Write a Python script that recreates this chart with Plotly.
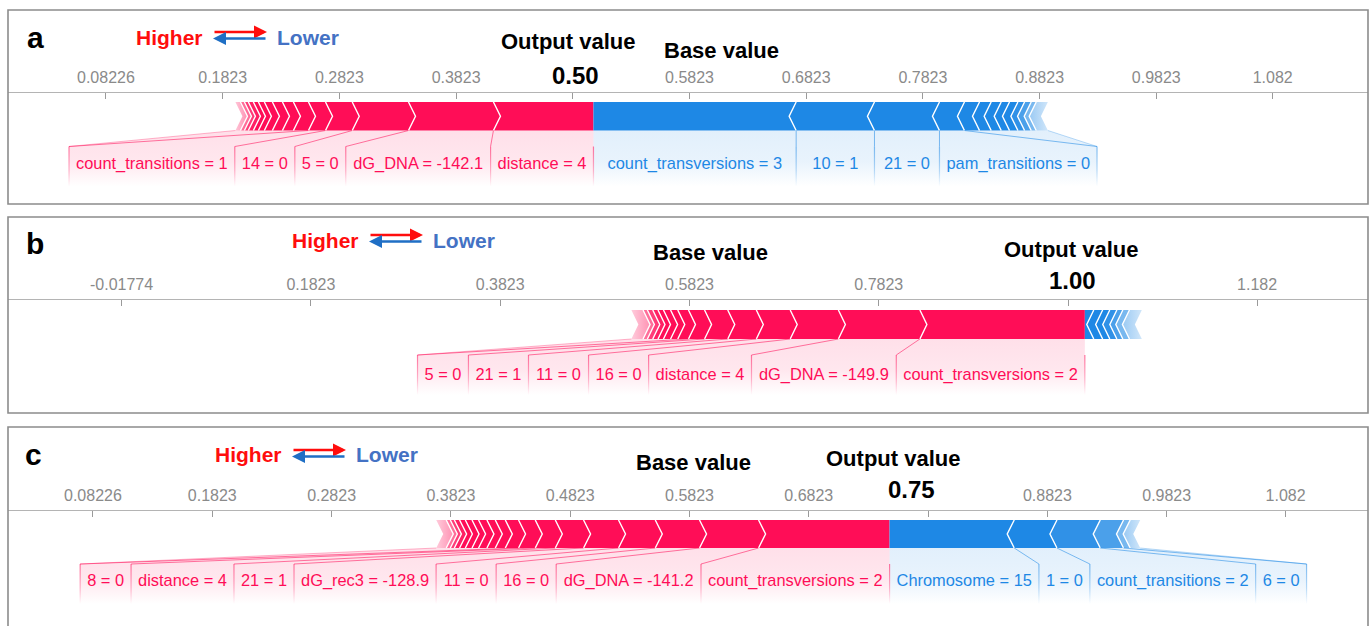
import plotly.graph_objects as go

W, H = 1372, 626
BASE_VALUE = 0.5823

# ---------------- panel a ----------------
A_OUTPUT = 0.50
A_POS_LABELS = ["distance = 4", "dG_DNA = -142.1", "5 = 0", "14 = 0", "count_transitions = 1"]
A_POS_EFFECTS = [0.0857, 0.0728, 0.0482, 0.0229, 0.0146]
A_POS_TAIL = [0.0129, 0.0094, 0.0086, 0.0069, 0.0051, 0.0043, 0.0043, 0.0034, 0.0034, 0.0043]
A_NEG_LABELS = ["count_transversions = 3", "10 = 1", "21 = 0", "pam_transitions = 0"]
A_NEG_EFFECTS = [0.1737, 0.0671, 0.0557, 0.0214]
A_NEG_TAIL = [0.0129, 0.0100, 0.0086, 0.0071, 0.0072, 0.0057, 0.0057, 0.0043, 0.0100]
A_TICKS = ["0.08226", "0.1823", "0.2823", "0.3823", "0.4823", "0.5823",
           "0.6823", "0.7823", "0.8823", "0.9823", "1.082"]

# ---------------- panel b ----------------
B_OUTPUT = 1.00
B_POS_LABELS = ["count_transversions = 2", "dG_DNA = -149.9", "distance = 4",
                "16 = 0", "11 = 0", "21 = 1", "5 = 0"]
B_POS_EFFECTS = [0.1743, 0.0861, 0.0509, 0.0358, 0.0302, 0.0245, 0.0170]
B_POS_TAIL = [0.0113, 0.0076, 0.0075, 0.0058, 0.0055, 0.0057, 0.0046, 0.0123]
B_NEG_LABELS = []
B_NEG_EFFECTS = []
B_NEG_TAIL = [0.0094, 0.0094, 0.0075, 0.0075, 0.0063, 0.0070, 0.0131]
B_TICKS = ["-0.01774", "0.1823", "0.3823", "0.5823", "0.7823", "0.9823", "1.182"]

# ---------------- panel c ----------------
C_OUTPUT = 0.75
C_POS_LABELS = ["count_transversions = 2", "dG_DNA = -141.2", "16 = 0", "11 = 0",
                "dG_rec3 = -128.9", "21 = 1", "distance = 4", "8 = 0"]
C_POS_EFFECTS = [0.1098, 0.0495, 0.0371, 0.0308, 0.0293, 0.0237, 0.0168, 0.0140]
C_POS_TAIL = [0.0111, 0.0084, 0.0070, 0.0070, 0.0055, 0.0056, 0.0048, 0.0044, 0.0034, 0.0034, 0.0084]
C_NEG_LABELS = ["Chromosome = 15", "1 = 0", "count_transitions = 2", "6 = 0"]
C_NEG_EFFECTS = [0.1045, 0.0358, 0.0363, 0.0195]
C_NEG_TAIL = [0.0056, 0.0084]
C_TICKS = ["0.08226", "0.1823", "0.2823", "0.3823", "0.4823", "0.5823",
           "0.6823", "0.7823", "0.8823", "0.9823", "1.082"]

# ---------------- styling ----------------
RED = (255, 13, 87)
BLUE = (30, 136, 229)
LBL_FONT = "Liberation Sans, Arial, sans-serif"
BOLD_FONT = "Liberation Sans, Arial, sans-serif"
LBL_SIZE = 16.4
TICK_SIZE = 16
BASE_PX = 689.5          # pixel column of the base value in every panel
BOX_X0, BOX_X1 = 8, 1368  # panel frame left / right
TIP = 7                  # chevron depth (px)
PAD = 14                 # horizontal padding inside a label cell (px)

CHAR_EM = {c: 0.556 for c in "0123456789abdeghnopqu_"}
CHAR_EM.update({"c": 0.5, "s": 0.5, "v": 0.5, "k": 0.5, "x": 0.5, "y": 0.5, "z": 0.5,
                "t": 0.278, "f": 0.278, "i": 0.222, "l": 0.222, "j": 0.222, "r": 0.333,
                "m": 0.833, "w": 0.722, " ": 0.278, "=": 0.584, "-": 0.333, ".": 0.278,
                "C": 0.722, "D": 0.722, "N": 0.722, "A": 0.667, "G": 0.778})


def rgba(c, a):
    return f"rgba({c[0]},{c[1]},{c[2]},{a})"


def text_w(s):
    return sum(CHAR_EM.get(ch, 0.556) for ch in s) * LBL_SIZE


PANELS = [
    dict(tag="a", out=A_OUTPUT, pos_labels=A_POS_LABELS, pos_eff=A_POS_EFFECTS, pos_tail=A_POS_TAIL,
         neg_labels=A_NEG_LABELS, neg_eff=A_NEG_EFFECTS, neg_tail=A_NEG_TAIL, ticks=A_TICKS,
         ppu=1167.0, box=(10, 204), axis_y=93, bar=(102, 130.5), lab_y=165,
         letter=(35, 37), legend=(240, 37), out_title=(-25, 42), out_num=(-18, 75), base_title=(32, 50)),
    dict(tag="b", out=B_OUTPUT, pos_labels=B_POS_LABELS, pos_eff=B_POS_EFFECTS, pos_tail=B_POS_TAIL,
         neg_labels=B_NEG_LABELS, neg_eff=B_NEG_EFFECTS, neg_tail=B_NEG_TAIL, ticks=B_TICKS,
         ppu=946.5, box=(217, 413), axis_y=300, bar=(310, 339), lab_y=376,
         letter=(35, 244), legend=(396, 240), out_title=(-14, 250), out_num=(-12, 280), base_title=(21, 253)),
    dict(tag="c", out=C_OUTPUT, pos_labels=C_POS_LABELS, pos_eff=C_POS_EFFECTS, pos_tail=C_POS_TAIL,
         neg_labels=C_NEG_LABELS, neg_eff=C_NEG_EFFECTS, neg_tail=C_NEG_TAIL, ticks=C_TICKS,
         ppu=1193.0, box=(427, 640), axis_y=511, bar=(520, 548), lab_y=582,
         letter=(33, 455), legend=(319, 455), out_title=(3, 458), out_num=(22, 490), base_title=(4, 462)),
]

fig = go.Figure()
shapes, annotations, layout_axes = [], [], {}


def py(px):
    return 1 - px / H


for idx, p in enumerate(PANELS, start=1):
    xa = "x" if idx == 1 else f"x{idx}"
    ya = "y" if idx == 1 else f"y{idx}"
    ppu = p["ppu"]
    ay = p["axis_y"]
    bar_top, bar_bot = p["bar"]
    mid = (bar_top + bar_bot) / 2
    lab_top = bar_bot + 16
    lab_bot = lab_top + 40

    def val(px, ppu=ppu):
        return BASE_VALUE + (px - BASE_PX) / ppu

    def pxof(v, ppu=ppu):
        return BASE_PX + (v - BASE_VALUE) * ppu

    def yy(v_px, ay=ay):
        return v_px - ay

    def poly(xs, ys, color, grad=None, xa=xa, ya=ya):
        tr = go.Scatter(x=[val(x) for x in xs] + [val(xs[0])],
                        y=[yy(y) for y in ys] + [yy(ys[0])],
                        mode="lines", fill="toself", fillcolor=color,
                        line=dict(width=0, color=color), hoverinfo="skip",
                        xaxis=xa, yaxis=ya)
        if grad is not None:
            tr.update(fillgradient=grad)
        fig.add_trace(tr)

    def line(xs, ys, color, width, xa=xa, ya=ya):
        fig.add_trace(go.Scatter(x=[None if x is None else val(x) for x in xs],
                                 y=[None if y is None else yy(y) for y in ys],
                                 mode="lines", line=dict(color=color, width=width),
                                 hoverinfo="skip", xaxis=xa, yaxis=ya))

    def vsep(x, col):
        poly([x - 0.6, x + 0.6, x + 0.6, x - 0.6], [lab_top, lab_top, lab_bot, lab_bot], rgba(col, 0.5),
             grad=dict(type="vertical", start=yy(lab_top), stop=yy(lab_bot),
                       colorscale=[[0, rgba(col, 0.55)], [0.6, rgba(col, 0.3)], [1, rgba(col, 0)]]))

    x_out = pxof(p["out"])

    for sign, col, labels, eff, tail in ((-1, RED, p["pos_labels"], p["pos_eff"], p["pos_tail"]),
                                         (1, BLUE, p["neg_labels"], p["neg_eff"], p["neg_tail"])):
        effects = list(eff) + list(tail)
        bounds = [x_out]
        v = p["out"]
        for e in effects:
            v += sign * e
            bounds.append(pxof(v))
        n = len(effects)

        # label cells laid out outward from the output value
        cells = []
        inner = x_out
        for j, lbl in enumerate(labels):
            w = text_w(lbl) + PAD
            seg_outer = bounds[j + 1]
            outer = min(seg_outer, inner - w) if sign < 0 else max(seg_outer, inner + w)
            cells.append((outer, inner, seg_outer, lbl))
            inner = outer

        if cells:
            last_outer = cells[-1][0]
            tail_end = bounds[-1]
            poly([tail_end, x_out, x_out, last_outer, last_outer],
                 [bar_bot, bar_bot, lab_bot, lab_bot, lab_top], rgba(col, 0.1),
                 grad=dict(type="vertical", start=yy(bar_bot), stop=yy(lab_bot),
                           colorscale=[[0, rgba(col, 0.13)], [0.55, rgba(col, 0.1)], [1, rgba(col, 0)]]))
            line([tail_end, last_outer], [bar_bot, lab_top], rgba(col, 0.3), 1)

        # feature blocks (chevrons)
        for i in range(n):
            xi, xo = bounds[i], bounds[i + 1]
            ti = 0 if i == 0 else TIP
            if sign < 0:
                xs = [xo, xi, xi + ti, xi, xo, xo + TIP]
            else:
                xs = [xi, xo, xo - TIP, xo, xi, xi - ti]
            ys = [bar_top, bar_top, mid, bar_bot, bar_bot, mid]
            k = n - 1 - i
            if k == 0:
                lo, hi = (xo, xi) if sign < 0 else (xi, xo)
                cs = ([[0, rgba(col, 0.12)], [1, rgba(col, 0.45)]] if sign < 0
                      else [[0, rgba(col, 0.45)], [1, rgba(col, 0.12)]])
                poly(xs, ys, rgba(col, 0.3),
                     grad=dict(type="horizontal", start=val(lo - TIP), stop=val(hi + TIP), colorscale=cs))
            else:
                alpha = {1: 0.6, 2: 0.8, 3: 0.92}.get(k, 1.0)
                poly(xs, ys, rgba(col, alpha))

        # white chevron separators between blocks
        cx, cy = [], []
        for b in bounds[1:-1]:
            cx += [b, b - sign * TIP, b, None]
            cy += [bar_top, mid, bar_bot, None]
        if cx:
            line(cx, cy, "white", 1.4)

        # leader lines and cell dividers
        for outer, inner_x, seg_outer, lbl in cells:
            line([seg_outer, outer], [bar_bot, lab_top], rgba(col, 0.55), 1)
            vsep(outer, col)
        if cells:
            fig.add_trace(go.Scatter(
                x=[val((c[0] + c[1]) / 2) for c in cells], y=[yy(p["lab_y"])] * len(cells),
                mode="text", text=[c[3] for c in cells], textposition="middle center",
                textfont=dict(family=LBL_FONT, size=LBL_SIZE, color=rgba(col, 1)),
                hoverinfo="skip", cliponaxis=False, xaxis=xa, yaxis=ya))

    vsep(x_out, RED if p["pos_labels"] else BLUE)

    # axes
    tickvals = [float(t) for t in p["ticks"]]
    ticktext = ["" if abs(pxof(v) - x_out) < 50 else t for v, t in zip(tickvals, p["ticks"])]
    box_top, box_bot = p["box"]
    ybot = min(box_bot, H)
    layout_axes["xaxis" if idx == 1 else f"xaxis{idx}"] = dict(
        domain=[BOX_X0 / W, BOX_X1 / W], anchor=ya, side="top",
        range=[val(BOX_X0), val(BOX_X1)], showgrid=False, zeroline=False,
        showline=True, linecolor="#b4b4b4", linewidth=1.2,
        ticks="inside", ticklen=6, tickwidth=1, tickcolor="#9a9a9a",
        tickvals=tickvals, ticktext=ticktext, ticklabelstandoff=3,
        tickfont=dict(family=LBL_FONT, size=TICK_SIZE, color="#8a8a8a"), fixedrange=True)
    layout_axes["yaxis" if idx == 1 else f"yaxis{idx}"] = dict(
        domain=[py(ybot), py(ay)], anchor=xa, range=[ybot - ay, 0],
        visible=False, fixedrange=True)

    # frame
    shapes.append(dict(type="rect", xref="paper", yref="paper", x0=BOX_X0 / W, x1=BOX_X1 / W,
                       y0=py(box_bot), y1=py(box_top), line=dict(color="#8c8c8c", width=1.6)))

    # panel letter
    lx, lyy = p["letter"]
    annotations.append(dict(xref="paper", yref="paper", x=lx / W, y=py(lyy), text=f"<b>{p['tag']}</b>",
                            showarrow=False, xanchor="center", yanchor="middle",
                            font=dict(family=BOLD_FONT, size=30, color="black")))
    # higher / lower legend
    gx, gy = p["legend"]
    annotations.append(dict(xref="paper", yref="paper", x=(gx - 35) / W, y=py(gy), text="<b>Higher</b>",
                            showarrow=False, xanchor="right", yanchor="middle",
                            font=dict(family=BOLD_FONT, size=21, color="#ff0d0d")))
    annotations.append(dict(xref="paper", yref="paper", x=(gx + 35) / W, y=py(gy), text="<b>Lower</b>",
                            showarrow=False, xanchor="left", yanchor="middle",
                            font=dict(family=BOLD_FONT, size=21, color="#4472c4")))
    annotations.append(dict(xref="paper", yref="paper", x=(gx + 27) / W, y=py(gy - 5), ax=-54, ay=0,
                            text="", showarrow=True, arrowhead=2, arrowsize=1.0, arrowwidth=2.6,
                            arrowcolor="#ff0d0d", standoff=0, startstandoff=0))
    annotations.append(dict(xref="paper", yref="paper", x=(gx - 27) / W, y=py(gy + 1.5), ax=54, ay=0,
                            text="", showarrow=True, arrowhead=2, arrowsize=1.0, arrowwidth=2.6,
                            arrowcolor="#1f6fc5", standoff=0, startstandoff=0))
    # output / base value titles
    dx, ty = p["out_title"]
    annotations.append(dict(xref=xa, yref="paper", x=p["out"], xshift=dx, y=py(ty), text="<b>Output value</b>",
                            showarrow=False, xanchor="center", yanchor="middle",
                            font=dict(family=BOLD_FONT, size=22, color="black")))
    dx, ty = p["out_num"]
    annotations.append(dict(xref=xa, yref="paper", x=p["out"], xshift=dx, y=py(ty), text=f"<b>{p['out']:.2f}</b>",
                            showarrow=False, xanchor="center", yanchor="middle",
                            font=dict(family=BOLD_FONT, size=24, color="black")))
    dx, ty = p["base_title"]
    annotations.append(dict(xref=xa, yref="paper", x=BASE_VALUE, xshift=dx, y=py(ty), text="<b>Base value</b>",
                            showarrow=False, xanchor="center", yanchor="middle",
                            font=dict(family=BOLD_FONT, size=22, color="black")))

fig.update_layout(width=W, height=H, margin=dict(l=0, r=0, t=0, b=0),
                  paper_bgcolor="white", plot_bgcolor="rgba(0,0,0,0)", showlegend=False,
                  shapes=shapes, annotations=annotations, **layout_axes)
fig.write_html("out.html")
